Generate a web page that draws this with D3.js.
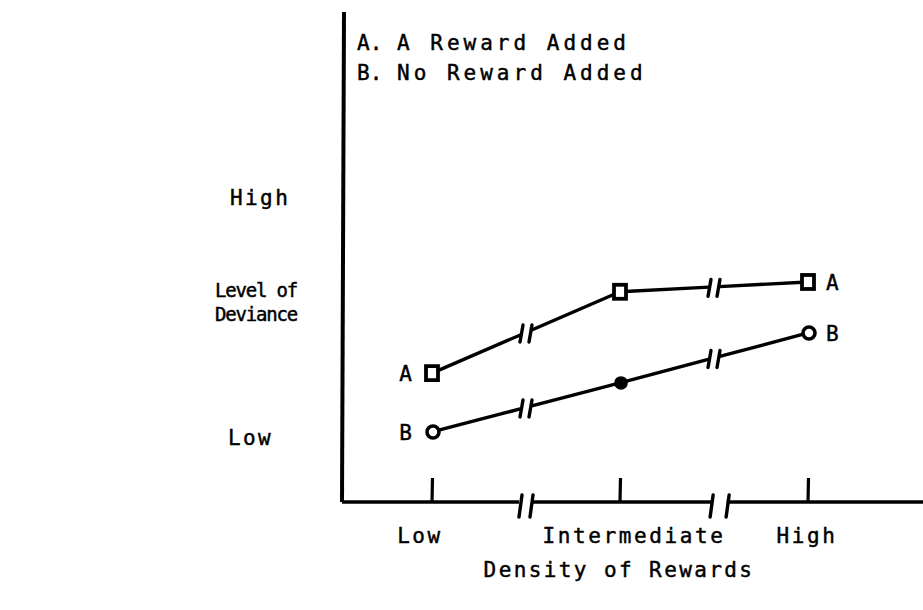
<!DOCTYPE html>
<html>
<head>
<meta charset="utf-8">
<script src="https://cdn.jsdelivr.net/npm/d3@7"></script>
<style>
  html, body { margin: 0; padding: 0; background: #fff; }
  svg text { font-family: "DejaVu Sans Mono", monospace; fill: #000; stroke: #000; stroke-width: 0.45px; }
</style>
</head>
<body>
<svg id="chart" width="923" height="610"></svg>
<script>
// ---- data ----
const categories = ["Low", "Intermediate", "High"];
const seriesNames = ["A", "B"];
const legendLabels = ["A Reward Added", "No Reward Added"];
const seriesA = [26.3, 42.9, 44.9];   // A Reward Added
const seriesB = [14.3, 24.3, 34.5];   // No Reward Added
const yTickLabels = ["Low", "High"];
const yTickValues = [13, 62];
const lineBreaks = [0.5, 1.5];        // break marks on the lines (category units)
const axisBreaks = [0.5, 1.53];       // break marks on the x axis (category units)
const xTitle = "Density of Rewards";
const yTitle = ["Level of", "Deviance"];

// ---- scales ----
const svg = d3.select("#chart");
const x = d3.scaleLinear().domain([0, 2]).range([432, 808]);
const y = d3.scaleLinear().domain([0, 100]).range([502, 12]);
const xAxisEnd = 923, yAxisX = 344;

const ink = "#000";
const g = svg.append("g");
const FS = 21;

// break-mark helper: two short slanted strokes
function breakMark(cx, cy, gap, h) {
  [-gap / 2, gap / 2].forEach(o => {
    g.append("line")
      .attr("x1", cx + o + 1.5).attr("y1", cy - h / 2)
      .attr("x2", cx + o - 1.5).attr("y2", cy + h / 2)
      .attr("stroke", ink).attr("stroke-width", 3.4)
      .attr("stroke-linecap", "round");
  });
}

// ---- y axis ----
g.append("line")
  .attr("x1", yAxisX).attr("y1", y(100))
  .attr("x2", yAxisX - 2).attr("y2", y(0))
  .attr("stroke", ink).attr("stroke-width", 4);

// ---- x axis with breaks ----
const axisY = y(0);
const axisGap = 7;
const axisSegs = [];
let start = yAxisX - 2;
axisBreaks.forEach(b => {
  axisSegs.push([start, x(b) - axisGap]);
  start = x(b) + axisGap;
});
axisSegs.push([start, xAxisEnd]);
axisSegs.forEach(s => {
  g.append("line").attr("x1", s[0]).attr("x2", s[1])
    .attr("y1", axisY).attr("y2", axisY)
    .attr("stroke", ink).attr("stroke-width", 3.5);
});
axisBreaks.forEach((b, i) => breakMark(x(b), axisY + 4, i === 0 ? 11 : 16, 22));

// ticks (pointing up)
categories.forEach((c, i) => {
  g.append("line").attr("x1", x(i)).attr("x2", x(i) + 0.5)
    .attr("y1", axisY).attr("y2", axisY - 24)
    .attr("stroke", ink).attr("stroke-width", 3.2);
});

// x tick labels
const xLabelDx = [-12, 14, -1];
categories.forEach((c, i) => {
  g.append("text").attr("x", x(i) + xLabelDx[i]).attr("y", 543)
    .attr("text-anchor", "middle").attr("font-size", FS)
    .attr("letter-spacing", 2.6).text(c);
});

// x title
g.append("text").attr("x", 619).attr("y", 577)
  .attr("text-anchor", "middle").attr("font-size", FS)
  .attr("letter-spacing", 2.4).text(xTitle);

// y tick labels
const yLabelX = [228, 230];
yTickLabels.forEach((t, i) => {
  g.append("text").attr("x", yLabelX[i]).attr("y", y(yTickValues[i]) + 7)
    .attr("font-size", FS).attr("letter-spacing", 2.4).text(t);
});

// y title
yTitle.forEach((t, i) => {
  g.append("text").attr("x", 215).attr("y", 297 + i * 24)
    .attr("font-size", 19).attr("letter-spacing", -1.2).text(t);
});

// legend
seriesNames.forEach((s, i) => {
  const ly = 50 + i * 30;
  g.append("text").attr("x", 357).attr("y", ly)
    .attr("font-size", FS).attr("letter-spacing", 0).text(s + ".");
  g.append("text").attr("x", 397).attr("y", ly)
    .attr("font-size", FS).attr("letter-spacing", 4).text(legendLabels[i]);
});

// ---- series lines with break marks ----
const series = [
  { name: "A", values: seriesA },
  { name: "B", values: seriesB }
];
const lineGap = 5;
series.forEach(sr => {
  const pts = sr.values.map((v, i) => [x(i), y(v)]);
  for (let i = 0; i < pts.length - 1; i++) {
    const p0 = pts[i], p1 = pts[i + 1];
    const b = lineBreaks[i];
    const bx = x(b);
    const t = (b - i);
    const by = p0[1] + (p1[1] - p0[1]) * t;
    const dx = p1[0] - p0[0], dy = p1[1] - p0[1];
    const len = Math.hypot(dx, dy);
    const ux = dx / len, uy = dy / len;
    g.append("line").attr("x1", p0[0]).attr("y1", p0[1])
      .attr("x2", bx - ux * lineGap).attr("y2", by - uy * lineGap)
      .attr("stroke", ink).attr("stroke-width", 3.4);
    g.append("line").attr("x1", bx + ux * lineGap).attr("y1", by + uy * lineGap)
      .attr("x2", p1[0]).attr("y2", p1[1])
      .attr("stroke", ink).attr("stroke-width", 3.4);
    breakMark(bx, by + 1, 9, 17);
  }
});

// markers A: squares
seriesA.forEach((v, i) => {
  g.append("rect").attr("x", x(i) - 6).attr("y", y(v) - 7)
    .attr("width", 12).attr("height", 14)
    .attr("fill", "#fff").attr("stroke", ink).attr("stroke-width", 3.8);
});
// markers B: circles (middle one filled)
seriesB.forEach((v, i) => {
  g.append("circle").attr("cx", x(i) + 1).attr("cy", y(v))
    .attr("r", i === 1 ? 5 : 6)
    .attr("fill", i === 1 ? ink : "#fff").attr("stroke", ink).attr("stroke-width", 3.6);
});

// series end labels
series.forEach(sr => {
  const n = sr.values.length - 1;
  g.append("text").attr("x", x(0) - 20).attr("y", y(sr.values[0]) + 8)
    .attr("text-anchor", "end").attr("font-size", FS).text(sr.name);
  g.append("text").attr("x", x(n) + 18).attr("y", y(sr.values[n]) + 8)
    .attr("font-size", FS).text(sr.name);
});
</script>
</body>
</html>
